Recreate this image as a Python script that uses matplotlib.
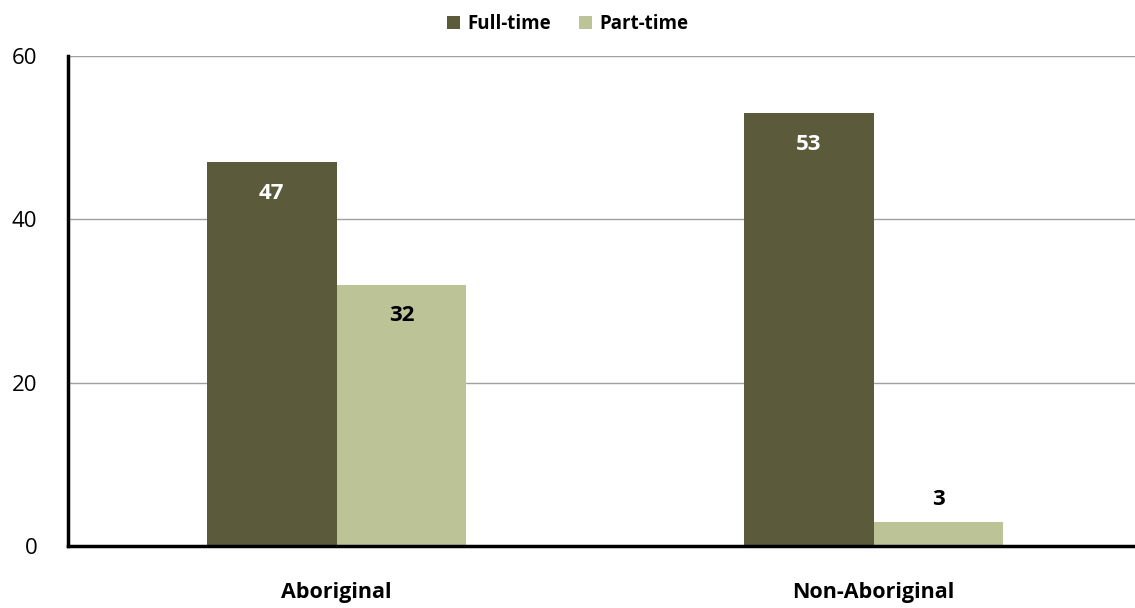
import numpy as np
import matplotlib.pyplot as plt

categories = ["Aboriginal", "Non-Aboriginal"]
full_time = [47, 53]
part_time = [32, 3]
yticks = [0, 20, 40, 60]

plt.rcParams['font.family'] = ['Open Sans', 'DejaVu Sans']

fig = plt.figure(figsize=(11.35, 6.08), dpi=100)
ax = fig.add_axes([68 / 1135, 1 - 546 / 608, 1074 / 1135, 490 / 608])

x = np.arange(len(categories))
w = 0.242
b1 = ax.bar(x - w / 2, full_time, w, color="#5b5b3c", label="Full-time", zorder=3)
b2 = ax.bar(x + w / 2, part_time, w, color="#bcc497", label="Part-time", zorder=3)

# value labels: inside the top when there is room, else just above
for bars, col in [(b1, "white"), (b2, "black")]:
    for rect in bars:
        h = rect.get_height()
        cx = rect.get_x() + rect.get_width() / 2
        if h > 10:
            ax.annotate(str(h), (cx, h), xytext=(0, -31), textcoords="offset pixels",
                        ha="center", va="center", fontsize=16, fontweight="bold", color=col)
        else:
            ax.annotate(str(h), (cx, h), xytext=(0, 22), textcoords="offset pixels",
                        ha="center", va="center", fontsize=16, fontweight="bold", color="black")

ax.set_xlim(-0.5, 1.5)
ax.set_ylim(0, 60)
ax.set_yticks(yticks)
ax.set_xticks(x)
ax.set_xticklabels(categories, fontsize=15.5, fontweight="bold")
ax.tick_params(axis="y", labelsize=16, length=0, pad=22)
ax.tick_params(axis="x", length=0, pad=26)
ax.yaxis.grid(True, color="#a0a0a0", linewidth=1, zorder=0)

ax.spines["right"].set_visible(False)
ax.spines["top"].set_visible(False)
ax.spines["left"].set_linewidth(2.5)
ax.spines["bottom"].set_linewidth(2.5)
ax.spines["left"].set_zorder(4)
ax.spines["bottom"].set_zorder(4)

leg = fig.legend(loc="upper center", bbox_to_anchor=(0.5, 1.005), ncol=2, frameon=False,
                 prop={"size": 13.5, "weight": "bold"}, handlelength=0.7, handleheight=0.7,
                 handletextpad=0.4, columnspacing=1.5)

fig.savefig("out.png", dpi=100)
